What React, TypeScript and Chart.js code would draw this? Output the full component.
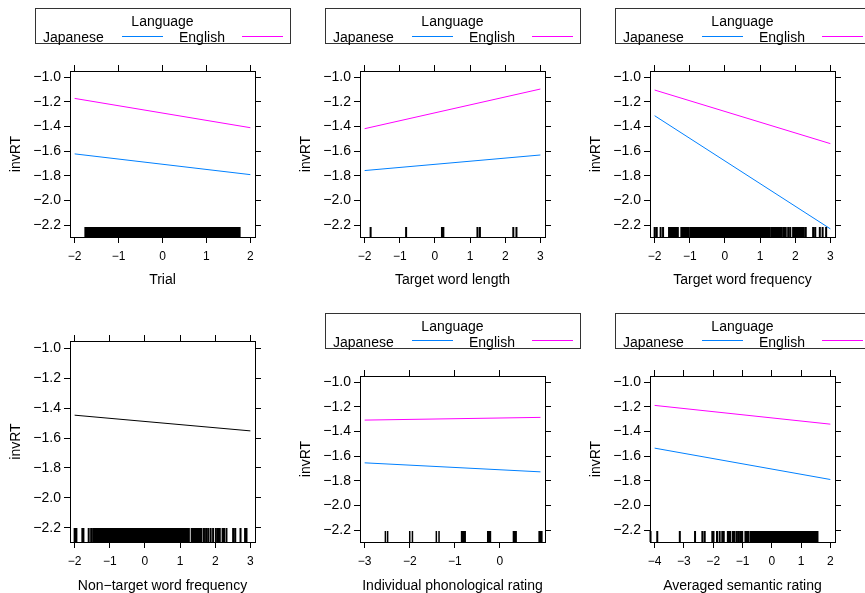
import React, { useEffect, useRef } from 'react';
import { Chart, registerables } from 'chart.js';

Chart.register(...registerables);

const FONT = "'Liberation Sans', Arial, Helvetica, sans-serif";
Chart.defaults.font.family = FONT;
Chart.defaults.color = '#000';

const BLUE = '#0080ff';
const MAGENTA = '#ff00ff';
const BLACK = '#000000';

// shared y axis
const yTicks = [-2.2, -2.0, -1.8, -1.6, -1.4, -1.2, -1.0];
const yMin = -2.295;
const yMax = -0.951;

// Panel 1: Trial
const trialX = [-2, 2];
const trialJapanese = [-1.622, -1.79];
const trialEnglish = [-1.173, -1.41];
const trialTicks = [-2, -1, 0, 1, 2];
const trialRug = [
  -1.75, -1.7, -1.65, -1.6, -1.55, -1.5, -1.45, -1.4, -1.35, -1.3, -1.25, -1.2, -1.15, -1.1, -1.05, -1.0,
  -0.95, -0.9, -0.85, -0.8, -0.75, -0.7, -0.65, -0.6, -0.55, -0.5, -0.45, -0.4, -0.35, -0.3, -0.25, -0.2,
  -0.15, -0.1, -0.05, 0, 0.05, 0.1, 0.15, 0.2, 0.25, 0.3, 0.35, 0.4, 0.45, 0.5, 0.55, 0.6, 0.65, 0.7, 0.75,
  0.8, 0.85, 0.9, 0.95, 1.0, 1.05, 1.1, 1.15, 1.2, 1.25, 1.3, 1.35, 1.4, 1.45, 1.5, 1.55, 1.6, 1.65, 1.7, 1.75,
];

// Panel 2: Target word length
const lengthX = [-2, 3];
const lengthJapanese = [-1.757, -1.631];
const lengthEnglish = [-1.418, -1.097];
const lengthTicks = [-2, -1, 0, 1, 2, 3];
const lengthRug = [-1.83, -0.82, 0.2, 0.24, 1.21, 1.28, 2.23, 2.32];

// Panel 3: Target word frequency
const freqX = [-2, 3];
const freqJapanese = [-1.313, -2.229];
const freqEnglish = [-1.105, -1.539];
const freqTicks = [-2, -1, 0, 1, 2, 3];
const freqRug = [
  -2.0, -1.94, -1.83, -1.76, -1.59, -1.55, -1.5, -1.46, -1.42, -1.38, -1.34, -1.24, -1.2, -1.16, -1.12, -1.08, -1.04,
  -0.98, -0.93, -0.88, -0.83, -0.78, -0.73, -0.68, -0.63, -0.58, -0.53, -0.48, -0.43, -0.38, -0.33, -0.28, -0.23,
  -0.18, -0.13, -0.08, -0.03, 0.02, 0.07, 0.12, 0.17, 0.22, 0.27, 0.32, 0.37, 0.42, 0.47, 0.52, 0.57, 0.62, 0.67,
  0.72, 0.77, 0.82, 0.87, 0.92, 0.97, 1.02, 1.07, 1.12, 1.17, 1.22, 1.27,
  1.33, 1.38, 1.43, 1.48, 1.53, 1.57, 1.62, 1.68, 1.73, 1.8, 1.86, 1.94, 1.99, 2.04, 2.09, 2.14, 2.19, 2.24, 2.3,
  2.51, 2.57, 2.7, 2.78, 2.88,
];

// Panel 4: Non-target word frequency
const nonTargetX = [-2, 3];
const nonTargetInvRT = [-1.447, -1.552];
const nonTargetTicks = [-2, -1, 0, 1, 2, 3];
const nonTargetRug = [
  -2.0, -1.95, -1.78, -1.75, -1.6, -1.53, -1.47, -1.43, -1.39, -1.35, -1.31, -1.28,
  -1.25, -1.2, -1.15, -1.1, -1.05, -1.0, -0.95, -0.9, -0.85, -0.8, -0.75, -0.7, -0.65, -0.6, -0.55, -0.5, -0.45,
  -0.4, -0.35, -0.3, -0.25, -0.2, -0.15, -0.1, -0.05, 0, 0.05, 0.1, 0.15, 0.2, 0.25, 0.3, 0.35, 0.4, 0.45, 0.5,
  0.55, 0.6, 0.65, 0.7, 0.75, 0.8, 0.85, 0.9, 0.95, 1.0, 1.05, 1.1, 1.15, 1.2, 1.25,
  1.33, 1.38, 1.43, 1.48, 1.53, 1.57, 1.61, 1.68, 1.74, 1.8, 1.87, 1.94, 2.02, 2.08, 2.13, 2.21, 2.25, 2.32,
  2.51, 2.57, 2.72, 2.85, 2.89,
];

// Panel 5: Individual phonological rating
const phonX = [-3, 0.9];
const phonJapanese = [-1.654, -1.727];
const phonEnglish = [-1.308, -1.286];
const phonTicks = [-3, -2, -1, 0];
const phonRug = [
  -2.54, -2.49, -2.0, -1.94, -1.41, -1.35, -0.85, -0.82, -0.79, -0.77, -0.27, -0.25, -0.23, -0.21,
  0.3, 0.32, 0.34, 0.36, 0.87, 0.89, 0.91, 0.93,
];

// Panel 6: Averaged semantic rating
const semX = [-4, 2];
const semJapanese = [-1.535, -1.789];
const semEnglish = [-1.189, -1.341];
const semTicks = [-4, -3, -2, -1, 0, 1, 2];
const semRug = [
  -4.14, -3.91, -3.14, -2.62, -2.37, -2.29, -2.03, -1.99, -1.87, -1.78, -1.69, -1.64, -1.5, -1.46, -1.42,
  -1.33, -1.29, -1.21, -1.14, -1.07, -1.01, -0.9, -0.84, -0.8,
  -0.72, -0.66, -0.6, -0.54, -0.48, -0.42, -0.36, -0.3, -0.24, -0.18, -0.12, -0.06, 0, 0.06, 0.12, 0.18, 0.24,
  0.3, 0.36, 0.42, 0.48, 0.54, 0.6, 0.66, 0.72, 0.78, 0.84, 0.9, 0.96, 1.02, 1.08, 1.14, 1.2, 1.26, 1.32, 1.38,
  1.44, 1.5, 1.56,
];

type Series = { label: string; x: number[]; y: number[]; color: string };
type Panel = {
  left: number; top: number; width: number; height: number;
  axisTop: number; axisBottom: number;
  xMin: number; xMax: number; xTicks: number[]; xTitle: string;
  series: Series[]; rug: number[]; rugLen: number; rugWidth: number;
  titlePad: number; legend: boolean; legendTop: number; legendLine: number;
};

const panels: Panel[] = [
  {
    left: 0, top: 0, width: 290, height: 300, axisTop: 71, axisBottom: 63,
    xMin: -2.106, xMax: 2.106, xTicks: trialTicks, xTitle: 'Trial',
    series: [
      { label: 'Japanese', x: trialX, y: trialJapanese, color: BLUE },
      { label: 'English', x: trialX, y: trialEnglish, color: MAGENTA },
    ],
    rug: trialRug, rugLen: 10, rugWidth: 2.5, titlePad: 11.6, legend: true, legendTop: 8, legendLine: 28,
  },
  {
    left: 290, top: 0, width: 290, height: 300, axisTop: 71, axisBottom: 63,
    xMin: -2.132, xMax: 3.132, xTicks: lengthTicks, xTitle: 'Target word length',
    series: [
      { label: 'Japanese', x: lengthX, y: lengthJapanese, color: BLUE },
      { label: 'English', x: lengthX, y: lengthEnglish, color: MAGENTA },
    ],
    rug: lengthRug, rugLen: 10, rugWidth: 2, titlePad: 11.6, legend: true, legendTop: 8, legendLine: 28,
  },
  {
    left: 580, top: 0, width: 290, height: 300, axisTop: 71, axisBottom: 63,
    xMin: -2.132, xMax: 3.132, xTicks: freqTicks, xTitle: 'Target word frequency',
    series: [
      { label: 'Japanese', x: freqX, y: freqJapanese, color: BLUE },
      { label: 'English', x: freqX, y: freqEnglish, color: MAGENTA },
    ],
    rug: freqRug, rugLen: 10, rugWidth: 2, titlePad: 11.6, legend: true, legendTop: 8, legendLine: 28,
  },
  {
    left: 0, top: 300, width: 290, height: 297, axisTop: 41, axisBottom: 55,
    xMin: -2.132, xMax: 3.132, xTicks: nonTargetTicks, xTitle: 'Non\u2212target word frequency',
    series: [{ label: 'invRT', x: nonTargetX, y: nonTargetInvRT, color: BLACK }],
    rug: nonTargetRug, rugLen: 14, rugWidth: 2, titlePad: 2.3, legend: false, legendTop: 313, legendLine: 27,
  },
  {
    left: 290, top: 300, width: 290, height: 297, axisTop: 76, axisBottom: 55,
    xMin: -3.103, xMax: 1.0, xTicks: phonTicks, xTitle: 'Individual phonological rating',
    series: [
      { label: 'Japanese', x: phonX, y: phonJapanese, color: BLUE },
      { label: 'English', x: phonX, y: phonEnglish, color: MAGENTA },
    ],
    rug: phonRug, rugLen: 11, rugWidth: 1.5, titlePad: 2.3, legend: true, legendTop: 313, legendLine: 27,
  },
  {
    left: 580, top: 300, width: 290, height: 297, axisTop: 76, axisBottom: 55,
    xMin: -4.158, xMax: 2.158, xTicks: semTicks, xTitle: 'Averaged semantic rating',
    series: [
      { label: 'Japanese', x: semX, y: semJapanese, color: BLUE },
      { label: 'English', x: semX, y: semEnglish, color: MAGENTA },
    ],
    rug: semRug, rugLen: 11, rugWidth: 2, titlePad: 2.3, legend: true, legendTop: 313, legendLine: 27,
  },
];

const minus = (s: string) => s.replace('-', '\u2212');
const fmtX = (v: any) => minus(String(Number(v)));
const fmtY = (v: any) => minus(Number(v).toFixed(1));

function PanelChart({ p }: { p: Panel }) {
  const ref = useRef<HTMLCanvasElement>(null);
  useEffect(() => {
    if (!ref.current) return;
    const setX = (s: any) => { s.ticks = p.xTicks.map((v) => ({ value: v })); };
    const setY = (s: any) => { s.ticks = yTicks.map((v) => ({ value: v })); };
    const grid = { display: true, drawOnChartArea: false, drawTicks: true, tickLength: 6, color: '#000', lineWidth: 1 };
    const border = { display: true, color: '#000', width: 1 };
    const rugPlugin = {
      id: 'rug',
      afterDatasetsDraw(chart: any) {
        const { ctx, chartArea, scales } = chart;
        ctx.save();
        ctx.strokeStyle = '#000';
        ctx.lineWidth = p.rugWidth;
        ctx.beginPath();
        for (const v of p.rug) {
          const px = scales.x.getPixelForValue(v);
          ctx.moveTo(px, chartArea.bottom);
          ctx.lineTo(px, chartArea.bottom - p.rugLen);
        }
        ctx.stroke();
        ctx.restore();
      },
    };
    const chart = new Chart(ref.current, {
      type: 'line',
      data: {
        datasets: p.series.map((s) => ({
          label: s.label,
          data: s.x.map((xv, i) => ({ x: xv, y: s.y[i] })),
          borderColor: s.color,
          backgroundColor: s.color,
          borderWidth: 1,
          pointRadius: 0,
          fill: false,
          tension: 0,
        })),
      },
      options: {
        responsive: false,
        animation: false,
        devicePixelRatio: 1,
        layout: { padding: 0 },
        plugins: { legend: { display: false }, tooltip: { enabled: false } },
        scales: {
          x: {
            type: 'linear', position: 'bottom', min: p.xMin, max: p.xMax,
            afterBuildTicks: setX,
            afterFit: (s: any) => { s.height = p.axisBottom; },
            grid, border,
            ticks: { callback: fmtX, color: '#000', font: { size: 12 }, padding: 6, maxRotation: 0, autoSkip: false },
            title: { display: true, text: p.xTitle, color: '#000', font: { size: 14 }, padding: { top: 0, bottom: p.titlePad } },
          },
          xTop: {
            type: 'linear', position: 'top', min: p.xMin, max: p.xMax,
            afterBuildTicks: setX,
            afterFit: (s: any) => { s.height = p.axisTop; },
            grid, border,
            ticks: { display: false },
          },
          y: {
            type: 'linear', position: 'left', min: yMin, max: yMax,
            afterBuildTicks: setY,
            afterFit: (s: any) => { s.width = 70; },
            grid, border,
            ticks: { callback: fmtY, color: '#000', font: { size: 14 }, padding: 3 },
            title: { display: true, text: 'invRT', color: '#000', font: { size: 14 }, padding: { top: 7.4, bottom: 0 } },
          },
          yRight: {
            type: 'linear', position: 'right', min: yMin, max: yMax,
            afterBuildTicks: setY,
            afterFit: (s: any) => { s.width = p.width - 255; },
            grid, border,
            ticks: { display: false },
          },
        },
      } as any,
      plugins: [rugPlugin],
    });
    return () => chart.destroy();
  }, []);
  return (
    <canvas
      ref={ref}
      width={p.width}
      height={p.height}
      style={{ position: 'absolute', left: p.left, top: p.top, width: p.width, height: p.height }}
    />
  );
}

function Legend({ p }: { p: Panel }) {
  const cx = p.left;
  const ty = p.legendTop;
  const text: React.CSSProperties = {
    position: 'absolute', fontFamily: FONT, fontSize: 14, lineHeight: '16px', color: '#000', whiteSpace: 'nowrap',
  };
  return (
    <>
      <div style={{ position: 'absolute', left: cx + 35, top: ty, width: 254, height: 34, border: '1px solid #333' }} />
      <div style={{ ...text, left: cx + 35, width: 255, top: ty + 5, textAlign: 'center' }}>Language</div>
      <div style={{ ...text, left: cx + 43, top: ty + 20.5 }}>{p.series[0].label}</div>
      <div style={{ ...text, left: cx + 179, top: ty + 20.5 }}>{p.series[1].label}</div>
      <svg
        width={260}
        height={6}
        style={{ position: 'absolute', left: cx + 35, top: ty + p.legendLine - 2, overflow: 'visible' }}
      >
        <line x1={87} x2={128} y1={2.5} y2={2.5} stroke={p.series[0].color} strokeWidth={1} />
        <line x1={207} x2={248} y1={2.5} y2={2.5} stroke={p.series[1].color} strokeWidth={1} />
      </svg>
    </>
  );
}

export default function App() {
  return (
    <div style={{ position: 'absolute', left: 0, top: 0, width: 865, height: 593, overflow: 'hidden', background: '#fff' }}>
      {panels.map((p, i) => <PanelChart key={i} p={p} />)}
      {panels.filter((p) => p.legend).map((p, i) => <Legend key={'l' + i} p={p} />)}
    </div>
  );
}
